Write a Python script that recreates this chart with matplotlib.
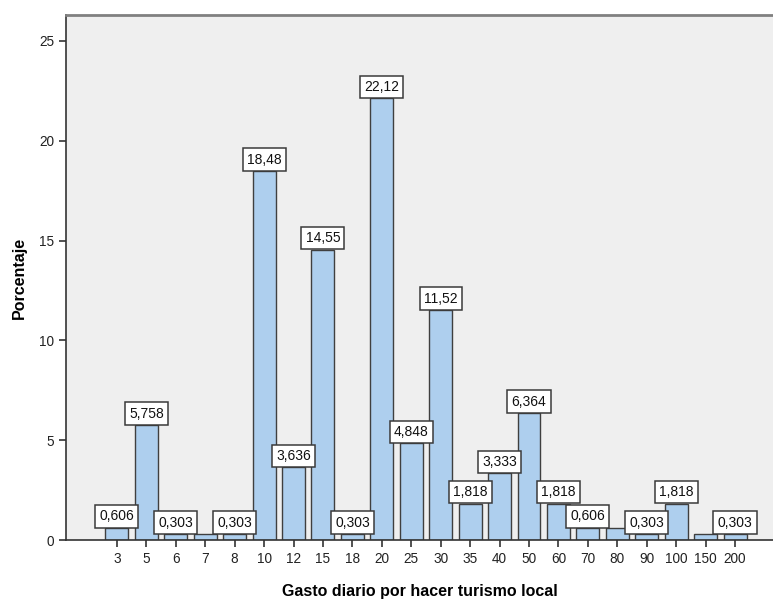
import matplotlib
matplotlib.use("Agg")
import matplotlib.pyplot as plt
import numpy as np

categories = ["3", "5", "6", "7", "8", "10", "12", "15", "18", "20", "25",
              "30", "35", "40", "50", "60", "70", "80", "90", "100", "150", "200"]
percentages = [0.606, 5.758, 0.303, 0.303, 0.303, 18.48, 3.636, 14.55, 0.303,
               22.12, 4.848, 11.52, 1.818, 3.333, 6.364, 1.818, 0.606, 0.606,
               0.303, 1.818, 0.303, 0.303]
# bars whose value label is hidden (overlapping neighbours)
unlabeled = ["7", "80", "150"]
y_ticks = [0, 5, 10, 15, 20, 25]

plt.rcParams["font.family"] = ["Arial", "Liberation Sans", "DejaVu Sans"]

fig = plt.figure(figsize=(7.73, 5.99), dpi=100)
ax = fig.add_axes([66 / 773, 1 - 540 / 599, (773 - 66) / 773, (540 - 15) / 599])
ax.set_facecolor("#efefef")

x = np.arange(len(categories))
ax.bar(x, percentages, width=0.78, color="#aecfee", edgecolor="#3f3f3f",
       linewidth=1.0, zorder=2)

for xi, cat, val in zip(x, categories, percentages):
    if cat in unlabeled:
        continue
    txt = f"{val:.4g}".replace(".", ",")
    if val < 1:
        txt = f"{val:.3f}".replace(".", ",")
    ax.annotate(txt, (xi, val), xytext=(0, 3.2), textcoords="offset points",
                ha="center", va="bottom", fontsize=10, color="#111111",
                bbox=dict(boxstyle="square,pad=0.3", fc="white",
                          ec="#3a3a3a", lw=1.1), zorder=3)

ax.set_xlim(-1.73, len(categories) - 1 + 1.29)
ax.set_ylim(0, 26.3)
ax.set_xticks(x)
ax.set_xticklabels(categories)
ax.set_yticks(y_ticks)
ax.tick_params(axis="both", direction="out", length=5, width=1.2,
               colors="#333333", labelsize=9.8, labelcolor="#222222")

for side in ["left", "bottom"]:
    ax.spines[side].set_color("#333333")
    ax.spines[side].set_linewidth(1.2)
ax.spines["top"].set_color("#808080")
ax.spines["top"].set_linewidth(2.0)
ax.spines["right"].set_visible(False)

ax.set_xlabel("Gasto diario por hacer turismo local", fontsize=11.5,
              fontweight="bold", labelpad=13)
ax.set_ylabel("Porcentaje", fontsize=11.5, fontweight="bold", labelpad=9)

fig.savefig("out.png", dpi=100, facecolor="white")
